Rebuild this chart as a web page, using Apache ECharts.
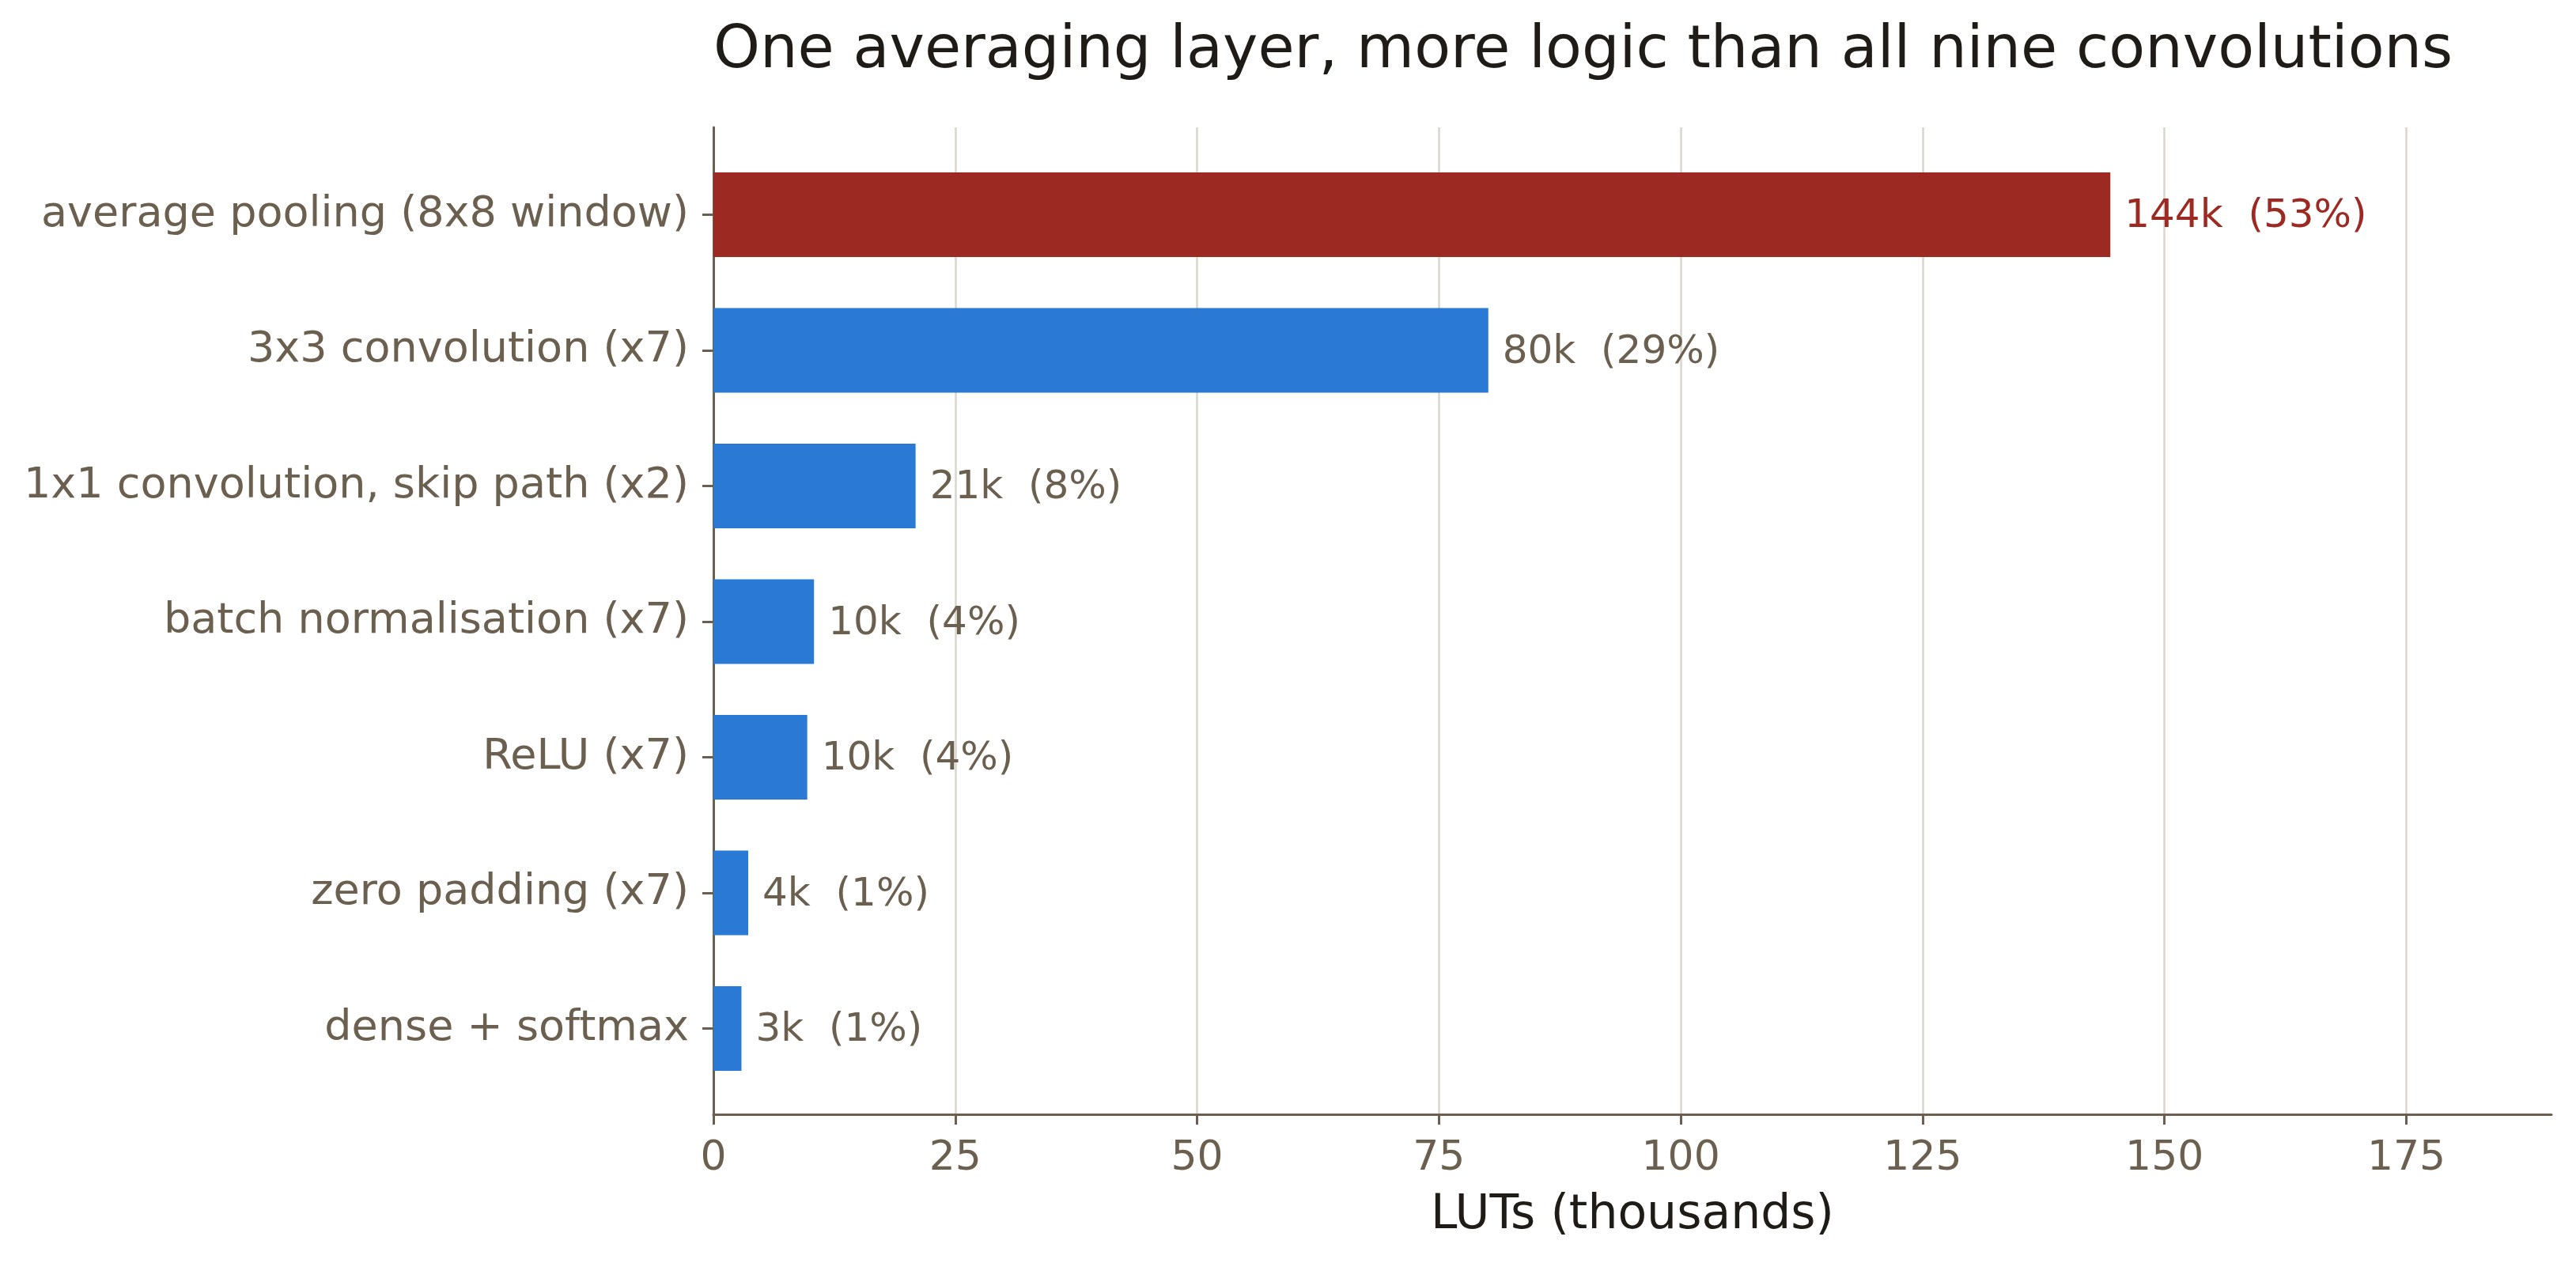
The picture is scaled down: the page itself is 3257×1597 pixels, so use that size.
<!DOCTYPE html>
<html>
<head>
<meta charset="utf-8">
<script src="https://cdn.jsdelivr.net/npm/echarts@6/dist/echarts.min.js"></script>
<style>
html,body{margin:0;padding:0;background:#fff;}
#chart{width:3257px;height:1597px;}
</style>
</head>
<body>
<div id="chart"></div>
<script>
const categories = [
  "average pooling (8x8 window)",
  "3x3 convolution (x7)",
  "1x1 convolution, skip path (x2)",
  "batch normalisation (x7)",
  "ReLU (x7)",
  "zero padding (x7)",
  "dense + softmax"
];
const lutsThousands = [144.4, 80.1, 20.9, 10.4, 9.7, 3.6, 2.9];
const xTicks = [0, 25, 50, 75, 100, 125, 150, 175];
const xMax = 190;
const titleText = "One averaging layer, more logic than all nine convolutions";
const xName = "LUTs (thousands)";

const FONT = "DejaVu Sans";
const TXT = "#6b5f4f";
const RED = "#9c2a22";
const BLUE = "#2a79d5";
const GRID = "#dad5cd";

const total = lutsThousands.reduce((a, b) => a + b, 0);
const highlightIndex = 0;

const chart = echarts.init(document.getElementById('chart'), null, {renderer: 'canvas'});

const option = {
  backgroundColor: '#ffffff',
  animation: false,
  title: {
    text: titleText,
    left: 902,
    top: 28,
    padding: 0,
    textStyle: {fontFamily: FONT, fontSize: 75, fontWeight: 'normal', color: '#1f1c18'}
  },
  grid: [
    {left: 902, right: 31, top: 185.75, bottom: 210.75, containLabel: false},
    {left: 902, right: 31, top: 161, bottom: 188, containLabel: false}
  ],
  xAxis: [
    {gridIndex: 0, type: 'value', min: 0, max: xMax, show: false, splitLine: {show: false}},
    {
      gridIndex: 1, type: 'value', min: 0, max: xMax, interval: 25,
      axisLine: {show: true, lineStyle: {color: TXT, width: 3}},
      axisTick: {show: true, length: 13, customValues: xTicks, lineStyle: {color: TXT, width: 3}},
      axisLabel: {
        show: true, margin: 30, fontFamily: FONT, fontSize: 52, color: TXT,
        customValues: xTicks,
        formatter: v => String(v)
      },
      splitLine: {show: true, lineStyle: {color: GRID, width: 2.5}},
      name: xName,
      nameLocation: 'middle',
      nameGap: 98,
      nameTextStyle: {fontFamily: FONT, fontSize: 60, color: '#1f1c18'}
    }
  ],
  yAxis: [
    {
      gridIndex: 0, type: 'category', data: categories, inverse: true,
      axisLine: {show: false},
      axisTick: {show: true, alignWithLabel: true, length: 14, lineStyle: {color: TXT, width: 3}},
      axisLabel: {show: true, margin: 31, padding: [14, 0, 0, 0], fontFamily: FONT, fontSize: 54, color: TXT},
      splitLine: {show: false}
    },
    {
      gridIndex: 1, type: 'value', min: 0, max: 1,
      axisLine: {show: true, lineStyle: {color: TXT, width: 3}},
      axisTick: {show: false}, axisLabel: {show: false}, splitLine: {show: false}
    }
  ],
  series: [{
    type: 'bar',
    xAxisIndex: 0, yAxisIndex: 0,
    barWidth: 107,
    data: lutsThousands.map((v, i) => ({
      value: v,
      itemStyle: {color: i === highlightIndex ? RED : BLUE},
      label: {color: i === highlightIndex ? RED : TXT}
    })),
    label: {
      show: true,
      position: 'right',
      distance: 18,
      offset: [0, 3],
      fontFamily: FONT,
      fontSize: 50,
      formatter: p => Math.round(p.value) + 'k  (' + Math.round(p.value / total * 100) + '%)'
    }
  }]
};
chart.setOption(option);
</script>
</body>
</html>
